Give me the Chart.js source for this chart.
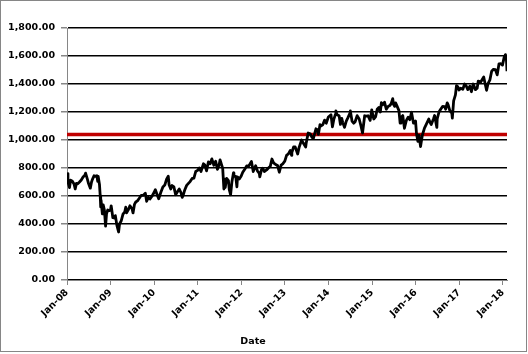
<!DOCTYPE html>
<html>
<head>
<meta charset="utf-8">
<script src="https://cdn.jsdelivr.net/npm/chart.js@4/dist/chart.umd.min.js"></script>
<style>
  html, body { margin: 0; padding: 0; background: #fff; }
  canvas { display: block; }
</style>
</head>
<body>
<canvas id="myChart" width="528" height="354"></canvas>
<script>
// index level (Russell 2000 style series)
const dates = [
  "2008-01-02","2008-01-09","2008-01-22","2008-01-31","2008-02-15","2008-02-29","2008-03-10","2008-03-20","2008-03-31",
  "2008-04-15","2008-04-30","2008-05-15","2008-05-30","2008-06-05","2008-06-20","2008-06-30","2008-07-15","2008-07-25",
  "2008-07-31","2008-08-15","2008-08-29","2008-09-08","2008-09-15","2008-09-19","2008-09-30","2008-10-06","2008-10-10",
  "2008-10-13","2008-10-24","2008-10-31","2008-11-10","2008-11-20","2008-11-28","2008-12-08","2008-12-19","2008-12-31",
  "2009-01-06","2009-01-20","2009-01-30","2009-02-10","2009-02-23","2009-03-09","2009-03-17","2009-03-31","2009-04-15",
  "2009-04-30","2009-05-08","2009-05-15","2009-05-29","2009-06-12","2009-06-30","2009-07-08","2009-07-20","2009-07-31",
  "2009-08-14","2009-08-28","2009-09-15","2009-09-30","2009-10-19","2009-10-30","2009-11-13","2009-11-27","2009-12-15",
  "2009-12-31",
  "2010-01-11","2010-01-29","2010-02-08","2010-02-26","2010-03-15","2010-03-31","2010-04-15","2010-04-29","2010-05-06",
  "2010-05-20","2010-05-31","2010-06-15","2010-06-30","2010-07-15","2010-07-30","2010-08-13","2010-08-24","2010-08-31",
  "2010-09-15","2010-09-30","2010-10-15","2010-10-29","2010-11-15","2010-11-30","2010-12-15","2010-12-31",
  "2011-01-14","2011-01-28","2011-02-18","2011-02-28","2011-03-16","2011-03-31","2011-04-15","2011-04-29","2011-05-16",
  "2011-05-31","2011-06-15","2011-06-30","2011-07-07","2011-07-29","2011-08-08","2011-08-15","2011-08-19","2011-08-31",
  "2011-09-15","2011-09-22","2011-10-03","2011-10-14","2011-10-27","2011-10-31","2011-11-15","2011-11-25","2011-11-30",
  "2011-12-15","2011-12-30",
  "2012-01-13","2012-01-31","2012-02-15","2012-02-29","2012-03-15","2012-03-26","2012-04-10","2012-04-30","2012-05-15",
  "2012-05-31","2012-06-04","2012-06-19","2012-06-29","2012-07-12","2012-07-31","2012-08-15","2012-08-31","2012-09-14",
  "2012-09-28","2012-10-15","2012-10-31","2012-11-15","2012-11-30","2012-12-14","2012-12-31",
  "2013-01-15","2013-01-31","2013-02-15","2013-02-26","2013-02-28","2013-03-15","2013-03-28","2013-04-18","2013-04-30",
  "2013-05-21","2013-05-31","2013-06-24","2013-06-28","2013-07-15","2013-07-31","2013-08-15","2013-08-27","2013-09-18",
  "2013-09-30","2013-10-08","2013-10-22","2013-10-31","2013-11-15","2013-11-29","2013-12-13","2013-12-31",
  "2014-01-22","2014-02-03","2014-02-14","2014-02-28","2014-03-04","2014-03-14","2014-03-31","2014-04-11","2014-04-22",
  "2014-04-30","2014-05-15","2014-05-30","2014-06-13","2014-06-30","2014-07-03","2014-07-17","2014-07-31","2014-08-12",
  "2014-08-29","2014-09-15","2014-09-30","2014-10-13","2014-10-31","2014-11-14","2014-11-28","2014-12-16","2014-12-29",
  "2015-01-15","2015-01-30","2015-02-13","2015-02-27","2015-03-11","2015-03-20","2015-03-31","2015-04-15","2015-04-30",
  "2015-05-15","2015-05-29","2015-06-10","2015-06-23","2015-06-30","2015-07-10","2015-07-17","2015-07-31","2015-08-14",
  "2015-08-24","2015-08-31","2015-09-15","2015-09-29","2015-10-15","2015-10-30","2015-11-13","2015-11-27","2015-12-14",
  "2015-12-31",
  "2016-01-08","2016-01-20","2016-01-29","2016-02-11","2016-02-26","2016-03-15","2016-03-31","2016-04-20","2016-04-29",
  "2016-05-11","2016-05-31","2016-06-08","2016-06-27","2016-06-30","2016-07-15","2016-07-29","2016-08-15","2016-08-31",
  "2016-09-09","2016-09-22","2016-09-30","2016-10-14","2016-10-31","2016-11-04","2016-11-15","2016-11-30","2016-12-09",
  "2016-12-20","2016-12-30",
  "2017-01-13","2017-01-31","2017-02-15","2017-02-28","2017-03-14","2017-03-31","2017-04-13","2017-04-28","2017-05-17",
  "2017-05-31","2017-06-09","2017-06-30","2017-07-25","2017-07-31","2017-08-18","2017-08-31","2017-09-15","2017-09-29",
  "2017-10-13","2017-10-31","2017-11-15","2017-11-30","2017-12-15","2017-12-29",
  "2018-01-12","2018-01-23","2018-01-31","2018-02-02","2018-02-05"
]
const values = [
  760,700,660,713,705,686,650,690,687,
  700,714,735,748,763,720,689,656,700,
  715,745,740,745,705,740,680,600,522,
  570,472,537,500,385,473,500,495,499,
  530,445,443,460,390,343,400,423,470,
  487,520,480,501,530,508,479,540,557,
  565,582,605,604,620,562,590,579,600,
  625,
  645,602,580,627,665,678,720,741,680,
  650,675,665,609,630,650,625,590,602,
  645,676,690,703,725,727,775,783,
  800,775,830,823,780,843,830,865,820,
  848,790,827,858,797,650,720,660,726,
  710,645,609,700,765,741,740,666,737,
  722,741,
  770,793,815,810,830,846,775,816,780,
  762,737,790,798,775,786,800,812,864,
  837,825,818,770,821,830,849,
  890,902,925,890,911,950,951,900,947,
  1000,984,950,977,1050,1045,1020,1010,1080,
  1073,1040,1110,1100,1110,1142,1120,1164,
  1180,1094,1145,1183,1208,1180,1173,1111,1155,
  1126,1090,1135,1160,1193,1208,1135,1120,1130,
  1174,1150,1101,1050,1173,1170,1173,1140,1215,
  1150,1165,1220,1233,1200,1266,1252,1270,1220,
  1240,1246,1260,1295,1254,1240,1265,1238,1210,
  1120,1159,1175,1084,1140,1162,1145,1198,1120,
  1136,
  1046,990,1035,953,1034,1085,1114,1150,1130,
  1110,1154,1175,1090,1151,1200,1220,1240,1239,
  1220,1265,1251,1210,1191,1156,1280,1322,1388,
  1380,1357,
  1370,1362,1400,1387,1360,1385,1345,1400,1360,
  1370,1420,1415,1450,1425,1355,1405,1430,1490,
  1505,1502,1465,1544,1545,1535,
  1590,1610,1575,1547,1491
]
const thresholdValue = 1040
const yearTicks = [2008,2009,2010,2011,2012,2013,2014,2015,2016,2017,2018]

//date string -> fractional year so a plain linear axis can be used
const toYear = (s)=>{
    const [y,m,d] = s.split("-").map(Number)
    const start = Date.UTC(y,0,1)
    const end = Date.UTC(y+1,0,1)
    return y + (Date.UTC(y,m-1,d) - start) / (end - start)
}

const xs = dates.map(toYear)
const xMin = 2008
const xMax = xs[xs.length-1]

const FONT = { family: "'DejaVu Sans', Verdana, sans-serif", size: 9.5, weight: "bold" }
const AXIS_GREY = "#868686"

const frame = {
    id: "frame",
    afterDraw(chart){
        const c = chart.ctx
        c.save()
        c.strokeStyle = AXIS_GREY
        c.lineWidth = 1
        c.strokeRect(0.5, 0.5, 526, 351)
        // axis title, sits left of the plot centre like the original
        c.fillStyle = "#000"
        c.font = "bold 9.5px 'DejaVu Sans', Verdana, sans-serif"
        c.textAlign = "center"
        c.textBaseline = "middle"
        c.fillText("Date", 253, 342)
        c.restore()
    }
}

new Chart(document.getElementById("myChart"), {
    type: "line",
    data: {
        datasets: [{
            label: "Index",
            data: xs.map((x,i)=> ({x: x, y: values[i]})),
            borderColor: "#000",
            borderWidth: 2.8,
            borderJoinStyle: "round",
            pointRadius: 0
        },{
            label: "Threshold",
            data: [{x: xMin, y: thresholdValue},{x: xMax, y: thresholdValue}],
            borderColor: "#c00000",
            borderWidth: 3.5,
            pointRadius: 0
        }]
    },
    options: {
        responsive: false,
        animation: false,
        layout: { padding: { left: 0, top: 28, right: 21, bottom: 0 } },
        plugins: { legend: { display: false }, tooltip: { enabled: false } },
        scales: {
            x: {
                type: "linear",
                min: xMin,
                max: xMax,
                afterBuildTicks: (scale)=>{ scale.ticks = yearTicks.map(v=> ({value: v})) },
                afterFit: (scale)=>{ scale.height = 74 },
                ticks: {
                    color: "#000",
                    font: FONT,
                    maxRotation: 45,
                    minRotation: 45,
                    padding: 2,
                    autoSkip: false,
                    callback: (v)=> "Jan-" + String(v).slice(2)
                },
                grid: { drawOnChartArea: false, tickLength: 5, tickColor: AXIS_GREY },
                border: { color: AXIS_GREY }
            },
            y: {
                min: 0,
                max: 1800,
                afterFit: (scale)=>{ scale.width = 67 },
                ticks: {
                    stepSize: 200,
                    color: "#000",
                    font: FONT,
                    padding: 6,
                    callback: (v)=> v.toLocaleString("en-US", {minimumFractionDigits: 2})
                },
                grid: { color: "#000", lineWidth: 1.5, tickColor: AXIS_GREY, tickLength: 6 },
                border: { color: AXIS_GREY }
            }
        }
    },
    plugins: [frame]
})
</script>
</body>
</html>
